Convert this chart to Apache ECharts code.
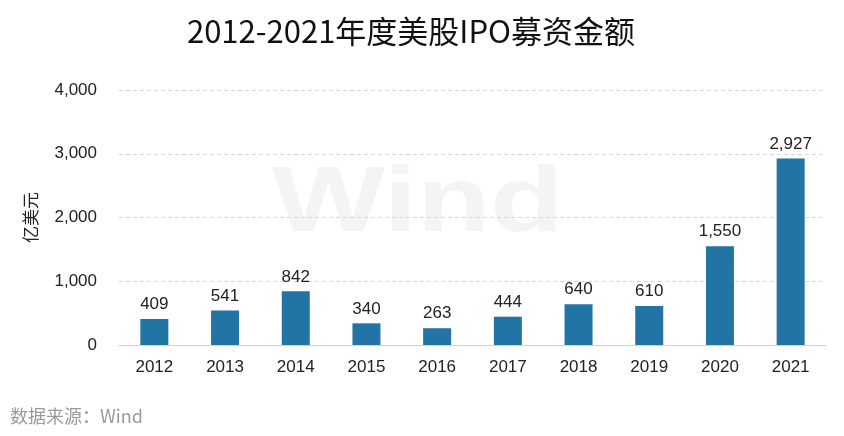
<!DOCTYPE html>
<html><head><meta charset="utf-8">
<script src="https://cdn.jsdelivr.net/npm/echarts@6/dist/echarts.min.js"></script>
<style>html,body{margin:0;padding:0;background:#fff}#c{width:844px;height:436px}</style>
</head><body><div id="c"></div>
<script>
const titleText = '2012-2021年度美股IPO募资金额';
const years = ['2012','2013','2014','2015','2016','2017','2018','2019','2020','2021'];
const values = [409, 541, 842, 340, 263, 444, 640, 610, 1550, 2927];
const yTicks = { min: 0, max: 4000, interval: 1000 };
const yName = '亿美元';
const sourceText = '数据来源：Wind';

const chart = echarts.init(document.getElementById('c'), null, {renderer:'canvas'});
chart.setOption({
  backgroundColor: '#fff',
  animation: false,
  title: {
    text: titleText, left: 406, textAlign: 'center', top: 11,
    textStyle: { fontFamily: 'Noto Sans CJK SC', fontWeight: 'normal', fontSize: 31, color: '#111' }
  },
  graphic: [
    { type: 'text', x: 272, y: 160, scaleX: 1.3, z: -10, silent: true,
      style: { text: 'Wind', font: 'bold 92px "Liberation Sans", Arial', fill: '#f4f4f4' } },
    { type: 'text', left: 10, top: 407,
      style: { text: sourceText, font: '18px "Noto Sans CJK SC"', fill: '#9a9a9a' } }
  ],
  grid: { left: 119, right: 18, top: 90, bottom: 91 },
  xAxis: {
    type: 'category', data: years,
    axisLine: { lineStyle: { color: '#d0d0d0' } },
    axisTick: { show: false },
    axisLabel: { color: '#222', fontSize: 17, margin: 14, fontFamily: 'Liberation Sans, Arial' }
  },
  yAxis: {
    type: 'value', min: yTicks.min, max: yTicks.max, interval: yTicks.interval,
    name: yName, nameLocation: 'middle', nameRotate: 90, nameGap: 80,
    nameTextStyle: { color: '#222', fontSize: 17, fontFamily: 'Noto Sans CJK SC' },
    axisLine: { show: false }, axisTick: { show: false },
    axisLabel: { color: '#222', fontSize: 17, margin: 22, fontFamily: 'Liberation Sans, Arial',
      formatter: v => v.toLocaleString('en-US') },
    splitLine: { lineStyle: { color: '#d8d8d8', type: [4, 3] } }
  },
  series: [{
    type: 'bar', data: values, barWidth: 28,
    itemStyle: { color: '#2174a4' },
    label: { show: true, position: 'top', distance: 6, color: '#222', fontSize: 17,
      fontFamily: 'Liberation Sans, Arial', formatter: p => p.value.toLocaleString('en-US') }
  }]
});
</script></body></html>
